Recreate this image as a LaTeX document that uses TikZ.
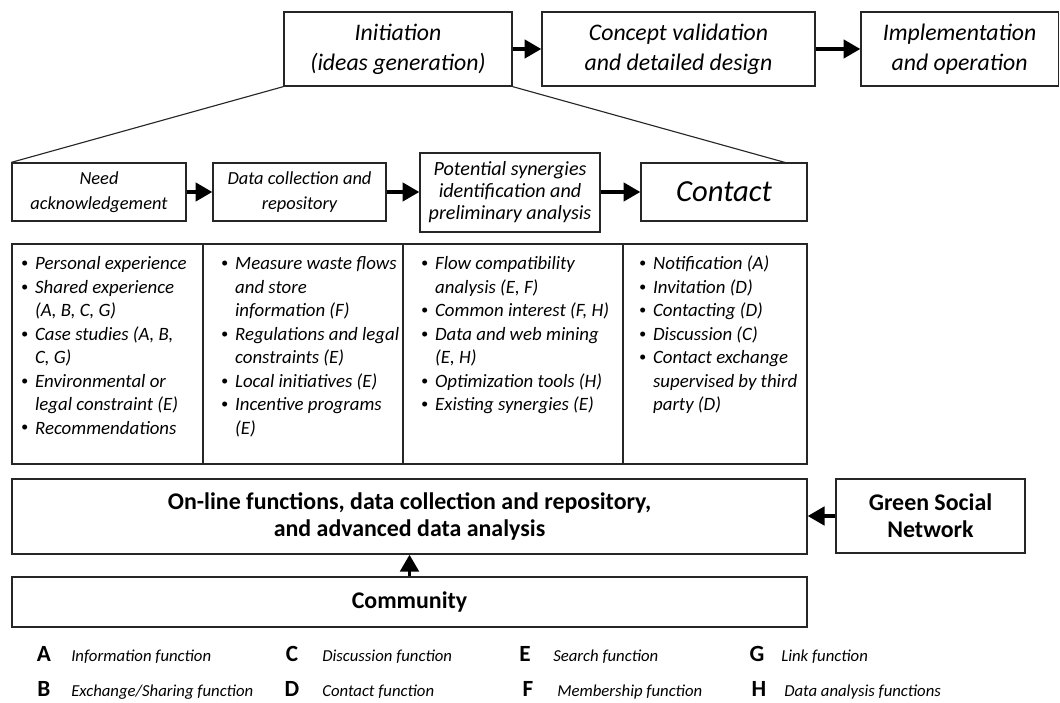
\documentclass[tikz,border=0pt]{standalone}
\usepackage{fontspec}
\setmainfont{Carlito}
\usetikzlibrary{arrows.meta}

\newcommand{\fsTop}{\fontsize{16.9}{21.3}\selectfont\itshape}
\newcommand{\fsStep}{\fontsize{13.1}{17.8}\selectfont\itshape}
\newcommand{\fsSmall}{\fontsize{14.3}{15.6}\selectfont\itshape}
\newcommand{\fsList}{\fontsize{13.4}{16.7}\selectfont\itshape}
\newcommand{\fsBold}{\fontsize{17}{19.2}\selectfont\bfseries}
\newcommand{\fsKey}{\fontsize{11.9}{13}\selectfont\itshape}
\newcommand{\bul}{\raisebox{0.12em}{\scalebox{0.75}{\textbullet}}}

\begin{document}
\begin{tikzpicture}[
    box/.style={rectangle, draw=black!85, line width=0.9pt, align=center,
                inner sep=0pt},
    cell/.style={rectangle, draw=black!85, line width=0.9pt, inner sep=0pt},
    items/.style={inner sep=0pt, anchor=north west, font=\fsList},
    flow/.style={-{Triangle[length=12pt,width=13pt]}, line width=2.7pt},
    key/.style={anchor=base, inner sep=0pt, font=\fontsize{16.5}{18}\selectfont\bfseries},
    keytext/.style={anchor=base west, inner sep=0pt, font=\fsKey}]

\useasboundingbox (0,0) rectangle (26.5,17.55);

% ════════════════════════════════════════
%  TOP: project stages
% ════════════════════════════════════════

\node[box, minimum width=5.7cm, minimum height=1.85cm, font=\fsTop]
    (init) at (9.95, 16.325) {Initiation\\(ideas generation)};
\node[box, minimum width=6.825cm, minimum height=1.85cm, font=\fsTop]
    (concept) at (16.9625, 16.325) {Concept validation\\and detailed design};
\node[box, minimum width=4.93cm, minimum height=1.85cm, font=\fsTop]
    (impl) at (23.99, 16.325) {Implementation\\and operation};

\draw[flow] (init.east) -- (concept.west);
\draw[flow] (concept.east) -- (impl.west);

% ════════════════════════════════════════
%  MIDDLE: steps of the initiation stage
% ════════════════════════════════════════

\node[box, minimum width=4.35cm, minimum height=1.45cm, font=\fsStep]
    (need) at (2.475, 12.75) {Need\\acknowledgement};
\node[box, minimum width=4.325cm, minimum height=1.45cm, font=\fsStep]
    (datacoll) at (7.4875, 12.75) {Data collection and\\repository};
\node[box, minimum width=4.5cm, minimum height=1.975cm, font=\fsSmall]
    (synergy) at (12.75, 12.7375) {Potential synergies\\identification and\\preliminary analysis};
\node[box, minimum width=4.15cm, minimum height=1.45cm,
      font=\fontsize{21.8}{24}\selectfont\itshape]
    (contact) at (18.1, 12.75) {Contact};

\draw[flow] (need.east) -- (datacoll.west);
\draw[flow] (datacoll.east) -- (synergy.west |- datacoll.east);
\draw[flow] (synergy.east |- contact.west) -- (contact.west);

% zoom lines from the initiation stage
\coordinate (ctop) at (19.675, 13.475);
\draw[line width=0.8pt, black!85] (init.south west) -- (need.north west);
\draw[line width=0.8pt, black!85] (init.south east) -- (ctop);

% ════════════════════════════════════════
%  TABLE: activities per step
% ════════════════════════════════════════

\node[cell, minimum width=4.775cm, minimum height=5.5cm] (col1) at (2.6875, 8.7) {};
\node[cell, minimum width=5.0cm, minimum height=5.5cm] (col2) at (7.575, 8.7) {};
\node[cell, minimum width=5.5cm, minimum height=5.5cm] (col3) at (12.825, 8.7) {};
\node[cell, minimum width=4.6cm, minimum height=5.5cm] (col4) at (17.875, 8.7) {};

\node[items] (list1) at (0.52, 11.22) {%
  \begin{tabular}{@{}l@{\hspace{5pt}}l@{}}
  \bul & Personal experience\\
  \bul & Shared experience\\
       & (A, B, C, G)\\
  \bul & Case studies (A, B,\\
       & C, G)\\
  \bul & Environmental or\\
       & legal constraint (E)\\
  \bul & Recommendations
  \end{tabular}};

\node[items] (list2) at (5.52, 11.22) {%
  \begin{tabular}{@{}l@{\hspace{5pt}}l@{}}
  \bul & Measure waste flows\\
       & and store\\
       & information (F)\\
  \bul & Regulations and legal\\
       & constraints (E)\\
  \bul & Local initiatives (E)\\
  \bul & Incentive programs\\
       & (E)
  \end{tabular}};

\node[items] (list3) at (10.52, 11.22) {%
  \begin{tabular}{@{}l@{\hspace{5pt}}l@{}}
  \bul & Flow compatibility\\
       & analysis (E, F)\\
  \bul & Common interest (F, H)\\
  \bul & Data and web mining\\
       & (E, H)\\
  \bul & Optimization tools (H)\\
  \bul & Existing synergies (E)
  \end{tabular}};

\node[items] (list4) at (15.97, 11.22) {%
  \begin{tabular}{@{}l@{\hspace{5pt}}l@{}}
  \bul & Notification (A)\\
  \bul & Invitation (D)\\
  \bul & Contacting (D)\\
  \bul & Discussion (C)\\
  \bul & Contact exchange\\
       & supervised by third\\
       & party (D)
  \end{tabular}};

% ════════════════════════════════════════
%  BOTTOM: platform and community
% ════════════════════════════════════════

\node[box, minimum width=19.875cm, minimum height=1.875cm, font=\fsBold]
    (online) at (10.2375, 4.6375)
    {On-line functions, data collection and repository,\\and advanced data analysis};
\node[box, minimum width=4.725cm, minimum height=1.85cm, font=\fsBold]
    (gsn) at (23.2625, 4.65) {Green Social\\Network};
\node[box, minimum width=19.875cm, minimum height=1.25cm, font=\fsBold]
    (comm) at (10.2375, 2.5) {Community};

\draw[flow] (gsn.west) -- (gsn.west -| online.east);
\draw[flow] (comm.north) -- (online.south);

% ════════════════════════════════════════
%  LEGEND
% ════════════════════════════════════════

\node[key] (kA) at (1.1, 1.025) {A};
\node[keytext] (tA) at (1.775, 1.025) {Information function};
\node[key] (kB) at (1.1, 0.15) {B};
\node[keytext] (tB) at (1.775, 0.15) {Exchange/Sharing function};
\node[key] (kC) at (7.3, 1.025) {C};
\node[keytext] (tC) at (8.05, 1.025) {Discussion function};
\node[key] (kD) at (7.3, 0.15) {D};
\node[keytext] (tD) at (8.05, 0.15) {Contact function};
\node[key] (kE) at (13.125, 1.025) {E};
\node[keytext] (tE) at (13.825, 1.025) {Search function};
\node[key] (kF) at (13.2, 0.15) {F};
\node[keytext] (tF) at (13.925, 0.15) {Membership function};
\node[key] (kG) at (18.925, 1.025) {G};
\node[keytext] (tG) at (19.525, 1.025) {Link function};
\node[key] (kH) at (18.975, 0.15) {H};
\node[keytext] (tH) at (19.6, 0.15) {Data analysis functions};

\end{tikzpicture}
\end{document}
